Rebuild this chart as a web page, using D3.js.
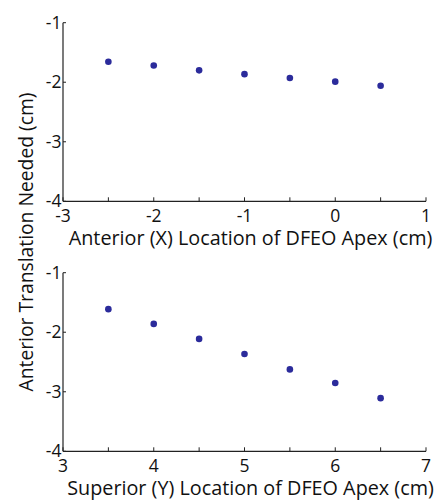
<!DOCTYPE html>
<html><head><meta charset="utf-8">
<script src="https://cdn.jsdelivr.net/npm/d3@7"></script>
<style>body{margin:0;background:#fff}svg{display:block}text{font-family:"Open Sans",sans-serif;fill:#111}</style>
</head><body><svg id="c" width="436" height="502"></svg>
<script>
const xTopPositions = [-2.5, -2, -1.5, -1, -0.5, 0, 0.5];
const yTopValues = [-1.657, -1.718, -1.80, -1.864, -1.93, -1.99, -2.06];
const xBotPositions = [3.5, 4, 4.5, 5, 5.5, 6, 6.5];
const yBotValues = [-1.612, -1.86, -2.112, -2.365, -2.624, -2.854, -3.107];
const xTopTicks = [-3, -2, -1, 0, 1];
const xTopMinor = [-3, -2.5, -2, -1.5, -1, -0.5, 0, 0.5, 1];
const xBotTicks = [3, 4, 5, 6, 7];
const xBotMinor = [3, 3.5, 4, 4.5, 5, 5.5, 6, 6.5, 7];
const yTicks = [-1, -2, -3, -4];
const xTopTitle = "Anterior (X) Location of DFEO Apex (cm)";
const xBotTitle = "Superior (Y) Location of DFEO Apex (cm)";
const yTitle = "Anterior Translation Needed (cm)";

const svg = d3.select("#c");
const left = 63, right = 426;
function panel(top, bottom, xDom, xs, ys, xTicks, xMinor, title) {
  const x = d3.scaleLinear().domain(xDom).range([left, right]);
  const y = d3.scaleLinear().domain([-4, -1]).range([bottom, top]);
  const g = svg.append("g");
  g.append("line").attr("x1", left).attr("x2", left).attr("y1", top).attr("y2", bottom).attr("stroke", "#222").attr("stroke-width", 1.2);
  g.append("line").attr("x1", left).attr("x2", right).attr("y1", bottom).attr("y2", bottom).attr("stroke", "#222").attr("stroke-width", 1.2);
  g.selectAll(".xt").data(xMinor).join("line").attr("x1", d => x(d)).attr("x2", d => x(d)).attr("y1", bottom).attr("y2", bottom - 4).attr("stroke", "#222");
  g.selectAll(".yt").data(yTicks).join("line").attr("x1", left).attr("x2", left + 3).attr("y1", d => y(d)).attr("y2", d => y(d)).attr("stroke", "#222");
  g.selectAll(".xl").data(xTicks).join("text").attr("x", d => x(d)).attr("y", bottom + 20.5).attr("text-anchor", "middle").attr("font-size", 17.5).text(d => d);
  g.selectAll(".yl").data(yTicks).join("text").attr("x", left - 1.5).attr("y", d => y(d) + 6).attr("text-anchor", "end").attr("font-size", 17.5).text(d => d);
  g.append("text").attr("x", 250.5).attr("y", bottom + 44).attr("text-anchor", "middle").attr("font-size", 19.8).text(title);
  g.selectAll("circle").data(xs).join("circle").attr("cx", d => x(d)).attr("cy", (d, i) => y(ys[i])).attr("r", 3.3).attr("fill", "#2b2b9b");
}
panel(22.7, 201.3, [-3, 1], xTopPositions, yTopValues, xTopTicks, xTopMinor, xTopTitle);
panel(272.7, 451.3, [3, 7], xBotPositions, yBotValues, xBotTicks, xBotMinor, xBotTitle);
svg.append("text").attr("transform", "translate(33,242) rotate(-90)").attr("text-anchor", "middle").attr("font-size", 19.3).text(yTitle);
</script></body></html>
